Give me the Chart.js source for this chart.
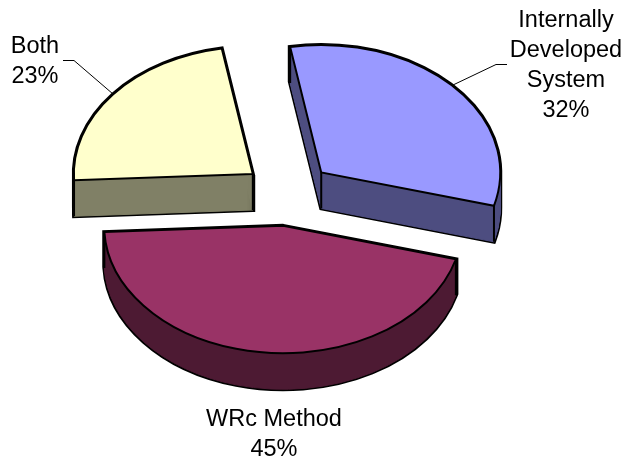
<!DOCTYPE html>
<html>
<head>
<meta charset="utf-8">
<title>Pie</title>
<style>
  html, body { margin: 0; padding: 0; background: #fff; }
  canvas { display: block; }
</style>
<script src="https://cdn.jsdelivr.net/npm/chart.js@4"></script>
</head>
<body>
<canvas id="pie" width="626" height="461"></canvas>
<script>
// slices, clockwise from the top
const categories = [['Internally', 'Developed', 'System'], ['WRc Method'], ['Both']];
const shares = [32, 45, 23];
const topColors = ['#9999FF', '#993366', '#FFFFCC'];
const wallColors = ['#4D4D80', '#4D1A33', '#808066'];

// label anchors: centre x, first baseline y
const labelAnchors = [[566, 26.5], [274, 426], [35, 53]];
// leader lines for the two upper slices
const leaders = [[[453, 85], [496, 64.5], [507, 64.5]], null, [[113, 94], [74, 60.5], [63, 60.5]]];

const TILT = 0.712;    // vertical squash of the disc
const DEPTH = 36;      // height of the walls in px
const EXPLODE = 45;    // how far each slice is pulled out

// adds one slice to the current path as a tilted, exploded sector, dy px below its top face
function addSlice(ctx, arc, dy) {
    const { x, y, startAngle, endAngle, outerRadius } = arc.getProps(['x', 'y', 'startAngle', 'endAngle', 'outerRadius'], true);
    const mid = (startAngle + endAngle) / 2;
    const px = x + Math.cos(mid) * EXPLODE;
    const py = y + Math.sin(mid) * EXPLODE;
    ctx.save();
    ctx.translate(0, y + dy);
    ctx.scale(1, TILT);
    ctx.translate(0, -y);
    ctx.moveTo(px, py);
    ctx.arc(px, py, outerRadius, startAngle, endAngle);
    ctx.closePath();
    ctx.restore();
}

// the three vertical edges of a slice
function cornerEdges(ctx, arc) {
    const { x, y, startAngle, endAngle, outerRadius } = arc.getProps(['x', 'y', 'startAngle', 'endAngle', 'outerRadius'], true);
    const mid = (startAngle + endAngle) / 2;
    const px = x + Math.cos(mid) * EXPLODE;
    const py = y + Math.sin(mid) * EXPLODE;
    const corners = [
        [px, py],
        [px + Math.cos(startAngle) * outerRadius, py + Math.sin(startAngle) * outerRadius],
        [px + Math.cos(endAngle) * outerRadius, py + Math.sin(endAngle) * outerRadius]
    ];
    ctx.beginPath();
    corners.forEach(([cx, cy]) => {
        const sy = y + (cy - y) * TILT;
        ctx.moveTo(cx, sy);
        ctx.lineTo(cx, sy + DEPTH);
    });
    ctx.stroke();
}

const tiltedPie = {
    id: 'tiltedPie',
    // replaces the flat arc drawing with the tilted version
    beforeDatasetsDraw(chart) {
        const ctx = chart.ctx;
        const arcs = chart.getDatasetMeta(0).data;
        ctx.save();
        ctx.lineJoin = 'miter';

        arcs.forEach((arc, i) => {
            // walls: every step of the sweep goes into one path, so one paint covers it all
            ctx.beginPath();
            for (let d = DEPTH; d >= 0; d--) addSlice(ctx, arc, d);
            ctx.strokeStyle = '#000';
            ctx.lineWidth = 4;
            ctx.stroke();
            ctx.fillStyle = wallColors[i];
            ctx.strokeStyle = wallColors[i];
            ctx.lineWidth = 1;
            ctx.fill();
            ctx.stroke();

            ctx.strokeStyle = '#000';
            ctx.lineWidth = 2;
            cornerEdges(ctx, arc);

            // top face
            ctx.beginPath();
            addSlice(ctx, arc, 0);
            ctx.fillStyle = arc.options.backgroundColor;
            ctx.fill();
            ctx.stroke();
        });
        ctx.restore();
        return false;
    },
    afterDraw(chart) {
        const ctx = chart.ctx;
        ctx.save();
        ctx.fillStyle = '#000';
        ctx.font = '23.5px "Liberation Sans", Arial, sans-serif';
        ctx.textAlign = 'center';
        categories.forEach((lines, i) => {
            const [lx, ly] = labelAnchors[i];
            lines.concat(shares[i] + '%').forEach((text, n) => {
                ctx.fillText(text, lx, ly + n * 30.2);
            });
        });
        ctx.strokeStyle = '#000';
        ctx.lineWidth = 1;
        leaders.forEach(points => {
            if (!points) return;
            ctx.beginPath();
            points.forEach(([px, py], n) => n ? ctx.lineTo(px, py) : ctx.moveTo(px, py));
            ctx.stroke();
        });
        ctx.restore();
    }
};

new Chart(document.getElementById('pie'), {
    type: 'pie',
    data: {
        labels: categories.map(c => c.join(' ')),
        datasets: [{
            data: shares,
            backgroundColor: topColors,
            borderWidth: 0
        }]
    },
    options: {
        responsive: false,
        animation: false,
        rotation: -10,
        radius: 179,
        layout: { padding: { right: 50, bottom: 73 } },
        plugins: { legend: { display: false }, tooltip: { enabled: false } }
    },
    plugins: [tiltedPie]
});
</script>
</body>
</html>
